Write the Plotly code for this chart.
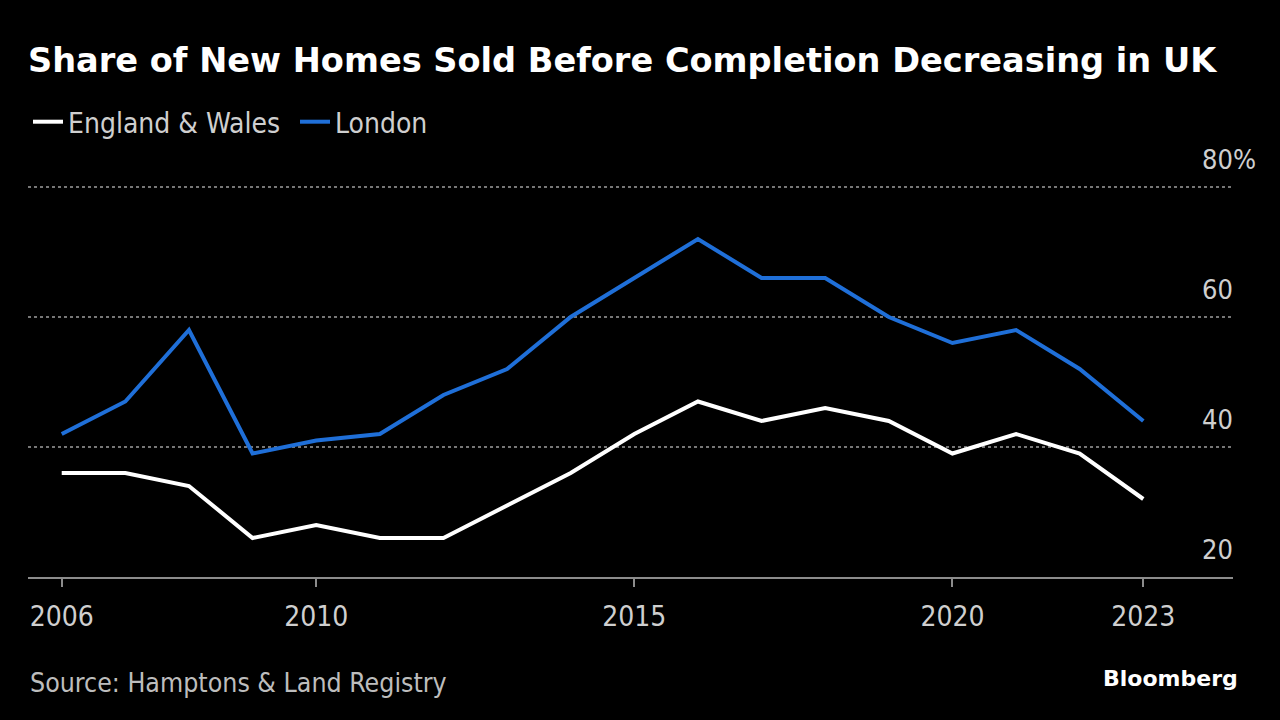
import plotly.graph_objects as go

years = list(range(2006, 2024))
england_wales = [36, 36, 34, 26, 28, 26, 26, 31, 36, 42, 47, 44, 46, 44, 39, 42, 39, 32]
london = [42, 47, 58, 39, 41, 42, 48, 52, 60, 66, 72, 66, 66, 60, 56, 58, 52, 44]

x_ticks = [2006, 2010, 2015, 2020, 2023]
y_ticks = [20, 40, 60, 80]
y_ticktext = ["20", "40", "60", "80%"]

title_text = "Share of New Homes Sold Before Completion Decreasing in UK"
source_text = "Source: Hamptons & Land Registry"

W, H = 1280, 720
L, R, T, B = 28, 47, 174, 143
pw = W - L - R
ph = H - T - B

cond = "Liberation Sans Narrow, DejaVu Sans Condensed, Arial Narrow, sans-serif"

fig = go.Figure()
fig.add_trace(go.Scatter(x=years, y=england_wales, mode="lines", name="England & Wales",
                         line=dict(color="#ffffff", width=4)))
fig.add_trace(go.Scatter(x=years, y=london, mode="lines", name="London",
                         line=dict(color="#1f6fd8", width=4)))

fig.update_layout(
    width=W, height=H,
    paper_bgcolor="#000000", plot_bgcolor="#000000",
    margin=dict(l=L, r=R, t=T, b=B),
    title=dict(text=title_text, x=L / W, xanchor="left", xref="container",
               y=1 - 60 / H, yanchor="middle", yref="container",
               font=dict(family="DejaVu Sans, sans-serif", size=33.6, color="#ffffff", weight="bold")),
    legend=dict(orientation="h", x=0, xanchor="left", y=1 - 122 / H, yanchor="middle",
                yref="container", font=dict(family=cond, size=28, color="#cfcfcf"),
                bgcolor="rgba(0,0,0,0)", itemwidth=30, entrywidth=222, entrywidthmode="pixels"),
    showlegend=True,
    xaxis=dict(range=[2005.47, 2024.41], tickvals=x_ticks, showgrid=False, zeroline=False,
               showline=True, linecolor="#8c8c8c", linewidth=2,
               ticks="outside", ticklen=8, tickwidth=2, tickcolor="#8c8c8c",
               tickfont=dict(family=cond, size=28, color="#cfcfcf"),
               ticklabelstandoff=5),
    yaxis=dict(range=[20, 82], tickvals=y_ticks, ticktext=y_ticktext, side="right",
               anchor="free", position=(1201 - L) / pw, showline=False, zeroline=False,
               showgrid=True, gridcolor="#777777", griddash="dot", gridwidth=1.5,
               ticks="", tickfont=dict(family=cond, size=27, color="#cfcfcf"),
               ticklabelshift=-27, ticklabelstandoff=0, automargin=False),
    annotations=[
        dict(text=source_text, x=0, xref="paper", xanchor="left",
             y=(577 - 682) / ph, yref="paper", yanchor="middle", showarrow=False,
             font=dict(family=cond, size=26.5, color="#bdbdbd")),
        dict(text="<b>Bloomberg</b>", x=(1240 - L) / pw, xref="paper", xanchor="right",
             y=(577 - 678) / ph, yref="paper", yanchor="middle", showarrow=False,
             font=dict(family="DejaVu Sans, sans-serif", size=22, color="#ffffff")),
    ],
)

fig.write_html("out.html")
